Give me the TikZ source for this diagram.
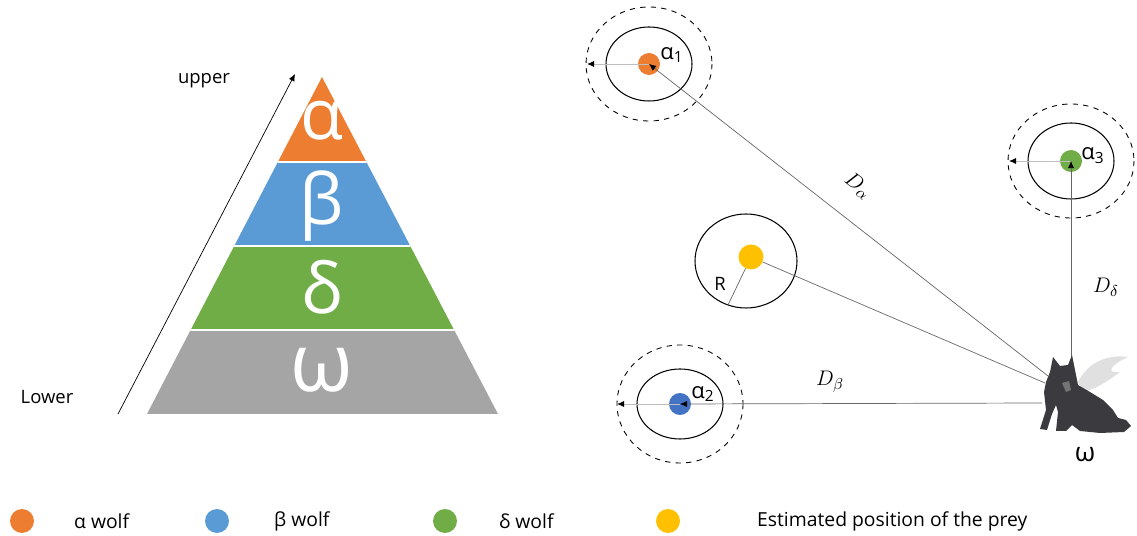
\documentclass[tikz,border=0pt]{standalone}
\usepackage{fontspec}
\setmainfont{Open Sans}
\usetikzlibrary{arrows.meta}

\definecolor{alphaorange}{HTML}{ED7D31}
\definecolor{betablue}{HTML}{5B9BD5}
\definecolor{betadark}{HTML}{4472C4}
\definecolor{deltagreen}{HTML}{70AD47}
\definecolor{omegagray}{HTML}{A5A5A5}
\definecolor{preyyellow}{HTML}{FFC000}
\definecolor{furdark}{HTML}{3A3A3F}

\tikzset{
  dot/.style={circle,inner sep=0pt,minimum size=0.44cm},
  keydot/.style={circle,inner sep=0pt,minimum size=0.48cm},
  ring/.style={black,line width=0.6pt},
  reachring/.style={black,dashed,line width=0.5pt},
  link/.style={black!60,line width=0.4pt},
  faintlink/.style={black!25,line width=0.5pt},
  pointer/.style={-{Latex[black,length=4pt,width=3.5pt]}},
  greek/.style={text=white,font=\fontsize{40}{40}\selectfont},
  lbl/.style={font=\fontsize{10.5}{12}\selectfont},
  dist/.style={font=\fontsize{13}{14}\selectfont,inner sep=1pt},
  keylbl/.style={anchor=west,font=\fontsize{11}{13}\selectfont},
}

\begin{document}
\begin{tikzpicture}[x=0.02cm,y=-0.02cm]

\useasboundingbox (0,0) rectangle (1137,536);

% hierarchy pyramid
\begin{scope}
\clip (322,77) -- (498,414) -- (147,414) -- cycle;
\fill[alphaorange] (140,70) rectangle (510,162);
\fill[betablue] (140,162) rectangle (510,246);
\fill[deltagreen] (140,246) rectangle (510,330);
\fill[omegagray] (140,330) rectangle (510,420);
\draw[white,line width=1.2pt] (140,162) -- (510,162) (140,246) -- (510,246) (140,330) -- (510,330);
\end{scope}
\node[greek] (pa) at (322,121) {α};
\node[greek] (pb) at (322,206) {β};
\node[greek] (pd) at (322,287) {δ};
\node[greek,font=\fontsize{46}{46}\selectfont] (pw) at (322,370) {ω};

\coordinate (low) at (118,414);
\coordinate (up) at (295,74);
\draw[line width=0.4pt,-{Latex[length=4pt,width=3.5pt]}] (low) -- (up);
\node[lbl] (upper) at (204,81) {upper};
\node[lbl] (lower) at (47,397) {Lower};

% leaders, prey and the omega wolf
\node[dot,fill=alphaorange] (a1) at (649,64) {};
\node[dot,fill=betadark] (a2) at (680,404) {};
\node[dot,fill=deltagreen] (a3) at (1071,161) {};

\draw[ring] (a1.center) ellipse [x radius=43,y radius=37];
\draw[reachring] (a1.center) ellipse [x radius=63,y radius=57];
\draw[ring] (a2.center) ellipse [x radius=43,y radius=35];
\draw[reachring] (a2.center) ellipse [x radius=63,y radius=59];
\draw[ring] (a3.center) ellipse [x radius=43,y radius=38];
\draw[reachring] (a3.center) ellipse [x radius=63,y radius=57];

\coordinate (a1r) at (587,64);
\coordinate (a2r) at (617,404);
\coordinate (a3r) at (1009,161);
\draw[faintlink,pointer] (a1.center) -- (a1r);
\draw[faintlink,pointer] (a2.center) -- (a2r);
\draw[faintlink,pointer] (a3.center) -- (a3r);

\node[lbl,font=\fontsize{12.5}{14}\selectfont] (l1) at (672,55) {α\textsubscript{1}};
\node[lbl,font=\fontsize{12.5}{14}\selectfont] (l2) at (703,394) {α\textsubscript{2}};
\node[lbl,font=\fontsize{12.5}{14}\selectfont] (l3) at (1093,156) {α\textsubscript{3}};

\coordinate (preyc) at (746,261);
\coordinate (rim) at (728,305);
\draw[ring] (preyc) ellipse [x radius=51,y radius=47];
\node[dot,fill=preyyellow,minimum size=0.5cm] (prey) at (751,257) {};
\draw[link] (prey) -- (rim);
\node[lbl] (rr) at (720,284) {R};

\coordinate (w-head) at (1048,376);
\coordinate (w-neck) at (1045,383);
\coordinate (w-chest) at (1042,403);
\coordinate (w-ear) at (1071,357);
\draw[link,pointer] (w-head) -- (a1.center);
\draw[link] (prey) -- (w-neck);
\draw[link,pointer] (w-chest) -- (a2.center);
\draw[link,pointer] (w-ear) -- (a3.center);

\node[dist,rotate=-38] (da) at (858,186) {$D_\alpha$};
\node[dist] (db) at (830,382) {$D_\beta$};
\node[dist] (dd) at (1106,287) {$D_\delta$};

% sitting wolf
\fill[black!12] (1078,382) .. controls (1088,362) and (1108,354) .. (1128,357)
  .. controls (1112,364) and (1104,374) .. (1120,372)
  .. controls (1104,384) and (1096,388) .. (1084,392) -- cycle;
\fill[furdark] (1050,372) -- (1053,357) -- (1060,366) -- (1068,365) -- (1072,355)
  -- (1075,370) -- (1078,385) -- (1090,392) -- (1103,400) -- (1113,410) -- (1118,418)
  -- (1126,420) -- (1131,426) -- (1124,432) -- (1100,433) -- (1080,431) -- (1072,425)
  -- (1066,431) -- (1056,431) -- (1058,412) -- (1056,405) -- (1052,414) -- (1047,430)
  -- (1040,429) -- (1046,410) -- (1044,392) -- (1046,382) -- cycle;
\fill[black!55] (1062,383) -- (1069,381) -- (1071,390) -- (1066,392) -- cycle;
\node[lbl,font=\fontsize{15}{16}\selectfont] (om) at (1085,455) {ω};

% legend
\node[keydot,fill=alphaorange] (k1) at (22,521) {};
\node[keydot,fill=betablue] (k2) at (217,521) {};
\node[keydot,fill=deltagreen] (k3) at (445,521) {};
\node[keydot,fill=preyyellow] (k4) at (668,521) {};
\node[keylbl] (t1) at (68,521) {α wolf};
\node[keylbl] (t2) at (268,521) {β wolf};
\node[keylbl] (t3) at (493,521) {δ wolf};
\node[keylbl] (t4) at (751,521) {Estimated position of the prey};

\end{tikzpicture}
\end{document}
